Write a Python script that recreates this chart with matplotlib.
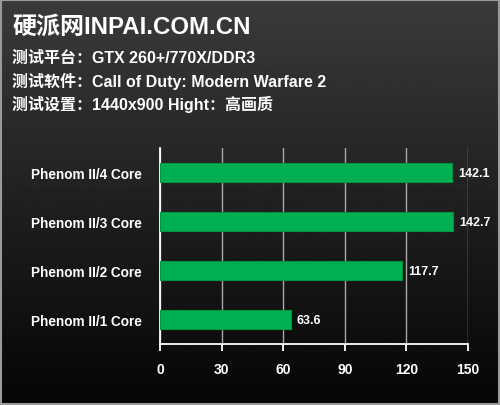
import numpy as np
import matplotlib

matplotlib.use("Agg")
from matplotlib import pyplot

pyplot.rcParams["font.family"] = ["Liberation Sans", "Noto Sans CJK SC", "DejaVu Sans"]

categories = ["Phenom II/1 Core", "Phenom II/2 Core", "Phenom II/3 Core", "Phenom II/4 Core"]
fps = [63.6, 117.7, 142.7, 142.1]
x_ticks = [0, 30, 60, 90, 120, 150]
title = "硬派网INPAI.COM.CN"
info_lines = [
    "测试平台：GTX 260+/770X/DDR3",
    "测试软件：Call of Duty: Modern Warfare 2",
    "测试设置：1440x900 Hight：高画质",
]

figure = pyplot.figure(figsize=(5, 4.06), dpi=100)

# background gradient
background = figure.add_axes([0, 0, 1, 1])
shade = np.linspace(0.23, 0.02, 256).reshape(-1, 1)
background.imshow(shade, cmap="gray", vmin=0, vmax=1, aspect="auto", extent=[0, 1, 0, 1])
background.set_xlim(0, 1)
background.set_ylim(0, 1)
background.axis("off")
background.add_patch(pyplot.Rectangle((0.002, 0.002), 0.996, 0.996, fill=False,
                                      edgecolor="#9a9a9a", linewidth=1.5))

figure.text(0.024, 0.932, title, color="white", fontsize=17.3, fontweight="bold", va="center")
for index, line in enumerate(info_lines):
    figure.text(0.024, 0.857 - index * 0.0575, line, color="white", fontsize=11.5,
                fontweight="bold", va="center")

axis = figure.add_axes([0.32, 0.150, 0.616, 0.483])
axis.patch.set_alpha(0)
positions = np.arange(len(categories))
bars = axis.barh(positions, fps, height=0.4, color="#00b050", edgecolor="#009440",
                 linewidth=0.8, zorder=3)
for bar, value in zip(bars, fps):
    axis.text(value + 3, bar.get_y() + bar.get_height() / 2, f"{value:.1f}", color="white",
              fontsize=9, fontweight="bold", va="center", ha="left")

axis.set_xlim(0, 150)
axis.set_ylim(-0.5, 3.5)
axis.set_xticks(x_ticks)
axis.set_yticks(positions)
axis.set_yticklabels(categories)
axis.xaxis.grid(True, color="#a8a8a8", linewidth=1)
axis.set_axisbelow(True)
for name in ["top", "right"]:
    axis.spines[name].set_visible(False)
for name in ["left", "bottom"]:
    axis.spines[name].set_color("white")
    axis.spines[name].set_linewidth(1.3)
axis.tick_params(axis="x", colors="white", direction="out", length=5, width=1.3, pad=8,
                 labelsize=10)
axis.tick_params(axis="y", colors="white", length=0, pad=13, labelsize=9.8)
for label in axis.get_xticklabels() + axis.get_yticklabels():
    label.set_fontweight("bold")

figure.savefig("out.png", dpi=100)
pyplot.close(figure)
